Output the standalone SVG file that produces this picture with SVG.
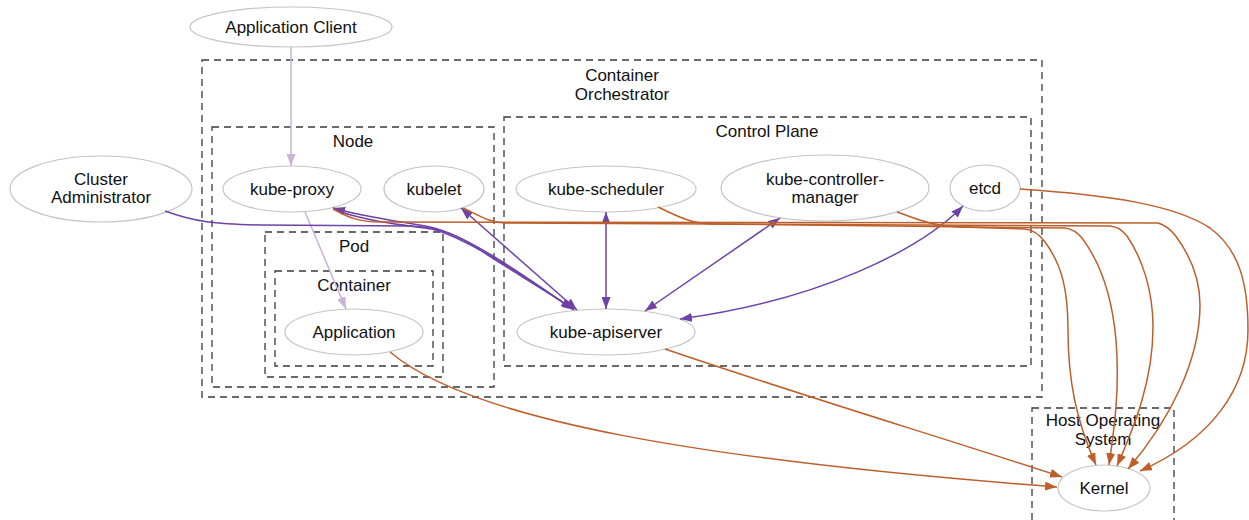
<svg xmlns="http://www.w3.org/2000/svg" width="1249" height="520" viewBox="0 0 1249 520">
<style>
.cl{fill:none;stroke:#3a3a3a;stroke-width:1.3;stroke-dasharray:7,5}
.nd{fill:#ffffff;stroke:#c4c4c4;stroke-width:1.2}
text{font-family:"Liberation Sans",Arial,Helvetica,sans-serif;font-size:17px;fill:#111;text-anchor:middle}
.e{fill:none;stroke-width:1.5}
.p{stroke:#6e42a6}
.lp{stroke:#cbb2d8}
.o{stroke:#bd5f2b}
</style>
<defs>
<marker id="ap" viewBox="0 0 12 9" refX="12" refY="4.5" markerWidth="12" markerHeight="9" markerUnits="userSpaceOnUse" orient="auto-start-reverse"><path d="M0,0 L12,4.5 L0,9 z" fill="#6e42a6"/></marker>
<marker id="alp" viewBox="0 0 12 9" refX="12" refY="4.5" markerWidth="12" markerHeight="9" markerUnits="userSpaceOnUse" orient="auto-start-reverse"><path d="M0,0 L12,4.5 L0,9 z" fill="#cbb2d8"/></marker>
<marker id="ao" viewBox="0 0 12 9" refX="12" refY="4.5" markerWidth="12" markerHeight="9" markerUnits="userSpaceOnUse" orient="auto-start-reverse"><path d="M0,0 L12,4.5 L0,9 z" fill="#bd5f2b"/></marker>
</defs>

<g id="clusters">
<g id="cluster-orchestrator"><rect class="cl" x="202" y="60" width="840" height="337"/><text x="622" y="81">Container</text><text x="622" y="100">Orchestrator</text></g>
<g id="cluster-node"><rect class="cl" x="212" y="127" width="282" height="260"/><text x="353" y="147">Node</text></g>
<g id="cluster-pod"><rect class="cl" x="265" y="232" width="178" height="145"/><text x="354" y="252">Pod</text></g>
<g id="cluster-container"><rect class="cl" x="275" y="271" width="158" height="95"/><text x="354" y="291">Container</text></g>
<g id="cluster-controlplane"><rect class="cl" x="504" y="117" width="527" height="249"/><text x="767" y="137">Control Plane</text></g>
<g id="cluster-hostos"><rect class="cl" x="1032" y="408" width="142" height="130"/><text x="1103" y="426">Host Operating</text><text x="1103" y="445">System</text></g>
</g>

<g id="n-appclient"><ellipse class="nd" cx="291" cy="27" rx="101" ry="20"/><text x="291" y="33">Application Client</text></g>
<g id="n-admin"><ellipse class="nd" cx="101" cy="189" rx="91" ry="33"/><text x="101" y="185">Cluster</text><text x="101" y="203">Administrator</text></g>
<g id="n-kubeproxy"><ellipse class="nd" cx="292" cy="189" rx="69" ry="23"/><text x="292" y="195">kube-proxy</text></g>
<g id="n-kubelet"><ellipse class="nd" cx="434" cy="189" rx="50" ry="23"/><text x="434" y="195">kubelet</text></g>
<g id="n-application"><ellipse class="nd" cx="354" cy="332" rx="69" ry="23"/><text x="354" y="338">Application</text></g>
<g id="n-scheduler"><ellipse class="nd" cx="606" cy="189" rx="90" ry="23"/><text x="606" y="195">kube-scheduler</text></g>
<g id="n-controller"><ellipse class="nd" cx="825" cy="188" rx="104" ry="33"/><text x="825" y="185">kube-controller-</text><text x="825" y="203">manager</text></g>
<g id="n-etcd"><ellipse class="nd" cx="985" cy="188" rx="35" ry="23"/><text x="985" y="194">etcd</text></g>
<g id="n-apiserver"><ellipse class="nd" cx="606" cy="332" rx="89" ry="23"/><text x="606" y="338">kube-apiserver</text></g>
<g id="n-kernel"><ellipse class="nd" cx="1104" cy="488" rx="46" ry="23"/><text x="1104" y="494">Kernel</text></g>

<g id="connectors">
<path class="e lp" marker-end="url(#alp)" d="M291,47 L291,166"/>
<path class="e lp" marker-end="url(#alp)" d="M305,212 L346,309"/>

<path class="e p" marker-end="url(#ap)" d="M165,211 C195,222 215,224 260,225 L410,226 C440,227 460,236 480,250 C510,270 545,290 573,309"/>
<path class="e p" marker-end="url(#ap)" d="M338,211 C370,222 405,225 432,229 C470,239 530,280 574,310"/>
<path class="e p" marker-end="url(#ap)" d="M574,310 C530,280 470,236 430,227 C405,222 368,218 333,208"/>
<path class="e p" marker-start="url(#ap)" marker-end="url(#ap)" d="M461,208 L577,310"/>
<path class="e p" marker-start="url(#ap)" marker-end="url(#ap)" d="M606,212 L606,309"/>
<path class="e p" marker-start="url(#ap)" marker-end="url(#ap)" d="M780,218 L645,311"/>
<path class="e p" marker-start="url(#ap)" marker-end="url(#ap)" d="M963,206 C920,250 820,300 680,319"/>

<path class="e o" marker-end="url(#ao)" d="M390,352 C470,420 700,460 1057,487"/>
<path class="e o" marker-end="url(#ao)" d="M665,349 C800,395 950,440 1062,477"/>
<path class="e o" marker-end="url(#ao)" d="M333,209 C345,215 355,222 380,222 L1158,223 C1165,225 1170,229 1175,235 C1190,255 1200,280 1200,305 C1200,360 1170,420 1128,469"/>
<path class="e o" marker-end="url(#ao)" d="M463,208 C478,215 490,223 505,223 L1110,226 C1118,227 1122,230 1127,236 C1142,258 1153,290 1153,327 C1153,380 1135,425 1117,466"/>
<path class="e o" marker-end="url(#ao)" d="M658,207 C675,215 690,224 715,224 L1065,228 C1072,229 1077,232 1082,238 C1100,262 1112,295 1116,340 C1120,390 1114,430 1109,465"/>
<path class="e o" marker-end="url(#ao)" d="M897,212 C915,218 930,226 960,227 L1025,229 C1033,230 1040,235 1045,242 C1062,265 1068,290 1068,330 C1068,380 1076,420 1096,465"/>
<path class="e o" marker-end="url(#ao)" d="M1020,189 C1110,195 1175,205 1210,228 C1240,250 1248,285 1248,330 C1248,390 1210,440 1140,471"/>
</g>
</svg>
